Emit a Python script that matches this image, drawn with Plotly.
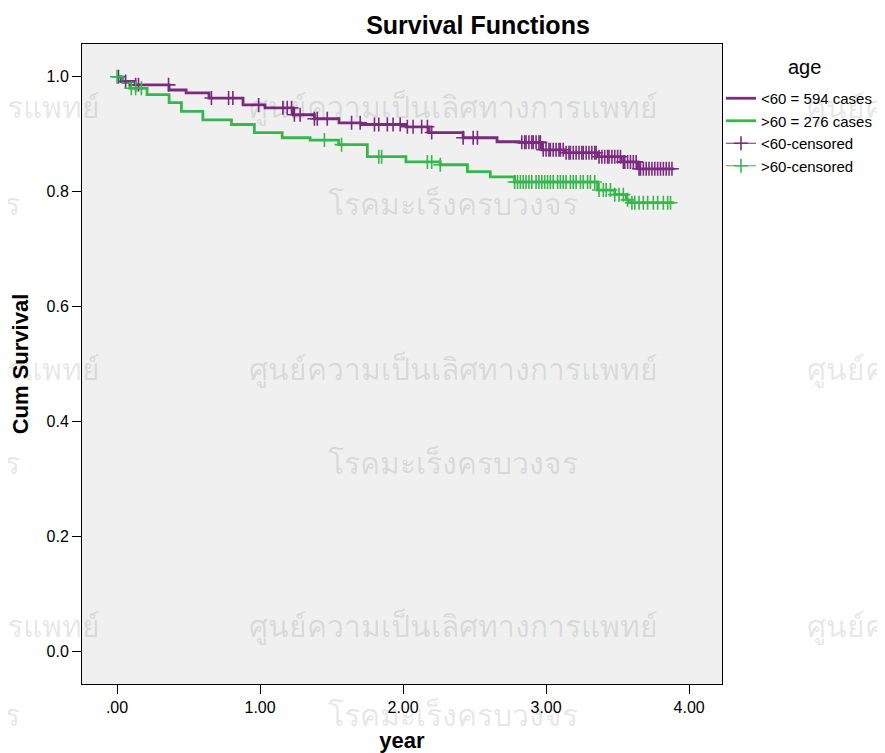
import numpy as np
import plotly.graph_objects as go

# Kaplan-Meier steps (time in years, cumulative survival)
t_lt60 = [0.0, 0.03, 0.126, 0.364, 0.483, 0.643, 0.881, 1.035, 1.231, 1.38, 1.552, 1.706,
          2.021, 2.182, 2.42, 2.657, 2.811, 2.972, 3.126, 3.364, 3.524, 3.643, 3.895]
s_lt60 = [1.0, 0.992, 0.986, 0.977, 0.972, 0.963, 0.951, 0.946, 0.934, 0.927, 0.920, 0.917,
          0.913, 0.903, 0.894, 0.887, 0.886, 0.873, 0.868, 0.861, 0.852, 0.840, 0.840]

t_gt60 = [0.0, 0.04, 0.09, 0.21, 0.364, 0.45, 0.60, 0.80, 0.96, 1.155, 1.35, 1.55, 1.75,
          2.02, 2.26, 2.45, 2.61, 2.78, 3.29, 3.36, 3.48, 3.56, 3.58, 3.895]
s_gt60 = [1.0, 0.990, 0.980, 0.969, 0.955, 0.940, 0.925, 0.917, 0.903, 0.894, 0.890, 0.882, 0.861,
          0.852, 0.847, 0.835, 0.826, 0.817, 0.817, 0.803, 0.795, 0.786, 0.781, 0.781]

# censored times
c_lt60 = [0.01, 0.06, 0.13, 0.15, 0.36, 0.66, 0.78, 0.81, 0.99, 1.16, 1.19, 1.22, 1.24, 1.28,
          1.38, 1.40, 1.47, 1.64, 1.70, 1.80, 1.83, 1.89, 1.93, 1.98, 2.03, 2.07, 2.13, 2.17,
          2.20, 2.42, 2.49, 2.52,
          2.83, 2.85, 2.86, 2.88, 2.90, 2.91, 2.93, 2.95, 2.96, 2.98, 3.00, 3.02, 3.03, 3.05,
          3.07, 3.09, 3.10, 3.12, 3.14, 3.16, 3.17, 3.19, 3.21, 3.23, 3.25, 3.26, 3.28, 3.30,
          3.32, 3.34, 3.35, 3.37, 3.39, 3.41, 3.43, 3.44, 3.46, 3.48, 3.50, 3.52, 3.54, 3.55,
          3.57, 3.59, 3.61, 3.63, 3.65, 3.66, 3.68, 3.70, 3.72, 3.74, 3.76, 3.78, 3.80, 3.82,
          3.84, 3.86, 3.88]
c_gt60 = [0.0, 0.10, 0.13, 0.17, 1.45, 1.57, 1.83, 1.85, 2.17, 2.20, 2.26,
          2.78, 2.80, 2.82, 2.84, 2.86, 2.88, 2.90, 2.93, 2.95, 2.97, 2.99, 3.01, 3.03, 3.05,
          3.08, 3.10, 3.12, 3.14, 3.17, 3.19, 3.21, 3.24, 3.26, 3.29, 3.31, 3.34, 3.37, 3.40,
          3.42, 3.45, 3.48, 3.51, 3.54, 3.57, 3.60, 3.62, 3.65, 3.68, 3.71, 3.75, 3.78, 3.82,
          3.85, 3.87]

x_ticks = [0, 1, 2, 3, 4]
x_ticktext = [".00", "1.00", "2.00", "3.00", "4.00"]

PURPLE = "#7B2A7E"
GREEN = "#35B84A"
FONT = "Liberation Sans"

# page has an 8px body margin, so the figure is drawn 8px smaller
W, H = 877, 745
L, T, PW, PH = 74, 36, 640, 640


def surv_at(times, surv, t):
    idx = np.searchsorted(np.array(times), np.array(t), side="right") - 1
    return list(np.array(surv)[idx])


def gapped(xs, ys):
    # None between points: no connecting line, but the legend still shows a line
    gx, gy = [], []
    for a, b in zip(xs, ys):
        gx += [a, None]
        gy += [b, None]
    return gx, gy


def px2paper(sx, sy):
    # screen pixel -> plot-area paper coords
    return (sx - 8 - L) / PW, (T + PH - (sy - 8)) / PH


fig = go.Figure()
fig.add_trace(go.Scatter(x=t_lt60, y=s_lt60, mode="lines", line_shape="hv",
                         line=dict(color=PURPLE, width=2.8), name="<60 = 594 cases"))
fig.add_trace(go.Scatter(x=t_gt60, y=s_gt60, mode="lines", line_shape="hv",
                         line=dict(color=GREEN, width=2.8), name=">60 = 276 cases"))

for c, t, s, col, nm in [(c_lt60, t_lt60, s_lt60, PURPLE, "<60-censored"),
                         (c_gt60, t_gt60, s_gt60, GREEN, ">60-censored")]:
    gx, gy = gapped(c, surv_at(t, s, c))
    fig.add_trace(go.Scatter(x=gx, y=gy, mode="lines+markers", name=nm, connectgaps=False,
                             line=dict(color=col, width=1),
                             marker=dict(symbol="cross-thin", size=10,
                                         line=dict(color=col, width=1.6))))

# watermark
wm1 = "ศูนย์ความเป็นเลิศทางการแพทย์"
wm2 = "โรคมะเร็งครบวงจร"
wm_font = dict(size=30, color="rgba(0,0,0,0.11)", family="Noto Sans")
for cx in [-105, 453, 1011]:
    for cy in [107, 368, 625]:
        ax, ay = px2paper(cx, cy)
        fig.add_annotation(text=wm1, x=ax, y=ay, xref="paper", yref="paper", showarrow=False,
                           font=wm_font, xanchor="center", yanchor="middle")
    for cy in [203, 462, 714]:
        ax, ay = px2paper(cx, cy)
        fig.add_annotation(text=wm2, x=ax, y=ay, xref="paper", yref="paper", showarrow=False,
                           font=wm_font, xanchor="center", yanchor="middle")

# legend heading
hx, hy = px2paper(804, 67)
fig.add_annotation(text="age", x=hx, y=hy, xref="paper", yref="paper", showarrow=False,
                   font=dict(family=FONT, size=20, color="black"), xanchor="center", yanchor="middle")

axis_common = dict(showline=True, linecolor="black", linewidth=1, mirror=True,
                   ticks="outside", tickcolor="black", showgrid=False, automargin=False,
                   zeroline=False, tickfont=dict(family=FONT, size=16, color="black"))

fig.update_xaxes(range=[-0.245, 4.23], tickvals=x_ticks, ticktext=x_ticktext, ticklen=9,
                 title=dict(text="<b>year</b>", font=dict(family=FONT, size=22, color="black"), standoff=21),
                 **axis_common)
fig.update_yaxes(range=[-0.056, 1.057], tickvals=[0, 0.2, 0.4, 0.6, 0.8, 1.0], tickformat=".1f",
                 ticklen=9,
                 title=dict(text="<b>Cum Survival</b>", font=dict(family=FONT, size=22, color="black"), standoff=12),
                 **axis_common)

lx, ly = px2paper(721, 82)
fig.update_layout(
    width=W, height=H,
    margin=dict(l=L, r=W - L - PW, t=T, b=H - T - PH, autoexpand=False),
    paper_bgcolor="white", plot_bgcolor="#F0F0F0",
    title=dict(text="<b>Survival Functions</b>", x=(478 - 8) / W, xanchor="center",
               y=1 - (25 - 8) / H, yanchor="middle", font=dict(family=FONT, size=25, color="black")),
    legend=dict(x=lx, y=ly, xanchor="left", yanchor="top",
                bgcolor="rgba(0,0,0,0)", font=dict(family=FONT, size=15, color="black"),
                itemwidth=30, tracegroupgap=0),
    showlegend=True,
)

fig.write_html("out.html")
